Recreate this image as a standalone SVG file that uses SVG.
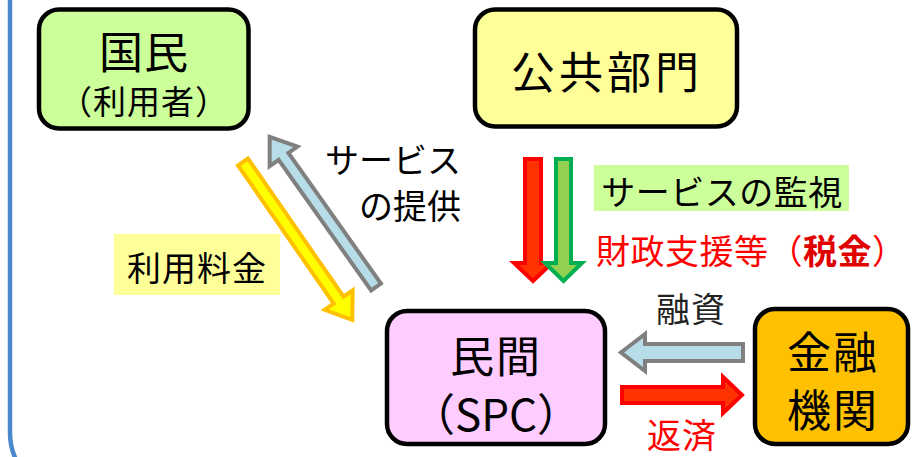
<svg xmlns="http://www.w3.org/2000/svg" width="913" height="457" viewBox="0 0 913 457">
<style>
text{font-family:"Noto Sans CJK JP","Noto Sans",sans-serif;text-anchor:middle;fill:#000}
.box{stroke:#000;stroke-width:4.5}
.big{font-size:44px}
.lbl{font-size:34px}
.cy{fill:#B7DEE8;stroke:#808080;stroke-width:4;stroke-linejoin:miter}
.rd{fill:#FF3300;stroke:#FF0000;stroke-width:4;stroke-linejoin:miter}
.gr{fill:#92D050;stroke:#00B050;stroke-width:4;stroke-linejoin:miter}
.yl{fill:#FFFF00;stroke:#FFC000;stroke-width:4;stroke-linejoin:miter}
</style>
<rect x="0" y="0" width="913" height="457" fill="#fff"/>
<rect x="10" y="-80" width="960" height="573" rx="60" fill="none" stroke="#4A89CB" stroke-width="4.5"/>

<g id="connectors">
  <path class="yl" transform="translate(243,162) rotate(55.3)" d="M0,-6 L168,-6 L168,-17 L192,0 L168,17 L168,6 L0,6 Z"/>
  <path class="cy" transform="translate(376,287) rotate(234.7)" d="M0,-6 L160,-6 L160,-17 L184,0 L160,17 L160,6 L0,6 Z"/>
  <path class="rd" d="M525,159 L541,159 L541,263 L552,263 L533,281 L514,263 L525,263 Z"/>
  <path class="gr" d="M556,159 L571,159 L571,263 L582,263 L563.5,281 L545,263 L556,263 Z"/>
  <path class="cy" d="M743,344 L645,344 L645,334 L621,352.5 L645,371 L645,361 L743,361 Z"/>
  <path class="rd" d="M622,387 L723,387 L723,377 L742,395 L723,413 L723,403 L622,403 Z"/>
</g>

<g id="node-kokumin">
  <rect class="box" x="39" y="9.5" width="209.5" height="119" rx="20" fill="#CCFF99"/>
  <text class="big" x="144" y="69" letter-spacing="1">国民</text>
  <text x="144" y="114" font-size="33" letter-spacing="1">（利用者）</text>
</g>
<g id="node-koukyou">
  <rect class="box" x="475" y="9.5" width="262" height="117" rx="20" fill="#FFFF99"/>
  <text class="big" x="607" y="89" letter-spacing="4">公共部門</text>
</g>
<g id="node-minkan">
  <rect class="box" x="387" y="311" width="218" height="133" rx="20" fill="#FFCCFF"/>
  <text class="big" x="496" y="373" letter-spacing="2">民間</text>
  <text x="496" y="431" font-size="44">（SPC）</text>
</g>
<g id="node-kinyu">
  <rect class="box" x="755" y="309" width="153" height="135" rx="20" fill="#FFC000"/>
  <text class="big" x="833" y="369" letter-spacing="2">金融</text>
  <text class="big" x="833" y="427" letter-spacing="2">機関</text>
</g>

<g id="labels">
  <text class="lbl" x="461" y="173" style="text-anchor:end">サービス</text>
  <text class="lbl" x="461" y="219" style="text-anchor:end">の提供</text>
  <rect x="114" y="234" width="166" height="61" fill="#FFFF99"/>
  <text class="lbl" x="197" y="281" letter-spacing="1">利用料金</text>
  <rect x="594" y="165" width="255" height="46" fill="#CCFF99"/>
  <text class="lbl" x="722" y="205" letter-spacing="0.5">サービスの監視</text>
  <text class="lbl" x="596" y="264" style="text-anchor:start;fill:#FF0000" letter-spacing="0.5">財政支援等（<tspan font-weight="bold" fill="#E00000">税金</tspan>）</text>
  <text class="lbl" x="691" y="322" style="fill:#222" letter-spacing="1">融資</text>
  <text class="lbl" x="682" y="448" style="fill:#FF0000" letter-spacing="1">返済</text>
</g>
</svg>
